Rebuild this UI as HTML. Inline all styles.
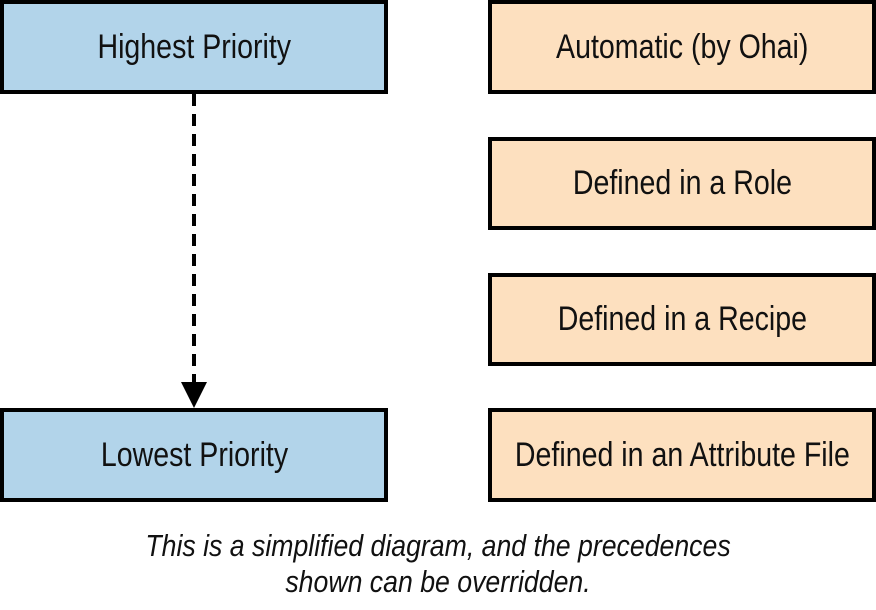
<!DOCTYPE html>
<html><head><style>
body{margin:0;width:876px;height:610px;background:#fff;position:relative;overflow:hidden;font-family:"Liberation Sans",sans-serif;}
.b{position:absolute;box-sizing:border-box;border:4px solid #000;display:flex;align-items:center;justify-content:center;font-size:34px;color:#111;}
.b span{display:inline-block;transform:scaleX(0.84);white-space:nowrap;}
.l{left:0;width:388px;background:#b2d4ea;}
.r{left:488px;width:388px;background:#fde0bf;}
.cap{position:absolute;left:0;width:876px;text-align:center;font-style:italic;font-size:31px;line-height:36px;top:528px;color:#111;transform:scaleX(0.86);transform-origin:438px 0;}
</style></head><body>
<div class="b l" style="top:0;height:94px"><span>Highest Priority</span></div>
<div class="b l" style="top:408px;height:94px"><span>Lowest Priority</span></div>
<div class="b r" style="top:0;height:94px"><span>Automatic (by Ohai)</span></div>
<div class="b r" style="top:137px;height:93px"><span>Defined in a Role</span></div>
<div class="b r" style="top:273px;height:93px"><span>Defined in a Recipe</span></div>
<div class="b r" style="top:408px;height:94px"><span>Defined in an Attribute File</span></div>
<svg style="position:absolute;left:0;top:0" width="876" height="610">
<line x1="194" y1="94" x2="194" y2="384" stroke="#000" stroke-width="4" stroke-dasharray="12,8"/>
<polygon points="181,382 207,382 194,408" fill="#000"/>
</svg>
<div class="cap">This is a simplified diagram, and the precedences<br>shown can be overridden.</div>
</body></html>
